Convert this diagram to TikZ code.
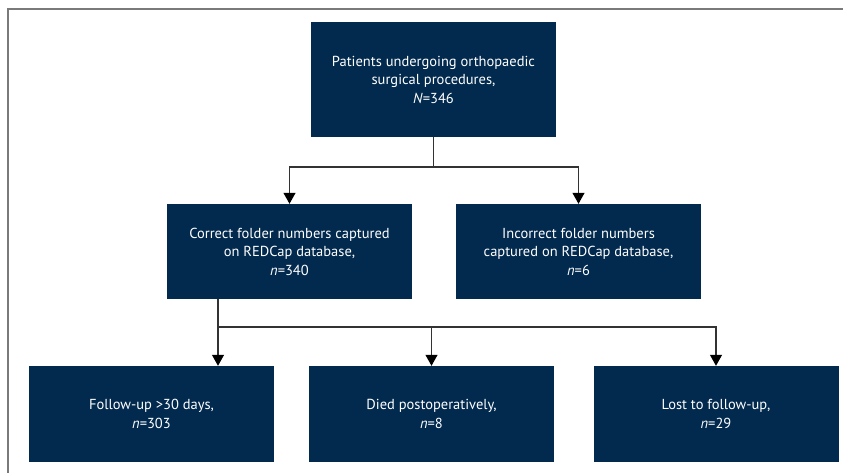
\documentclass[tikz,border=0pt]{standalone}
\usepackage{fontspec}
\setmainfont{PT Sans}
\usetikzlibrary{arrows.meta,calc}
\definecolor{navy}{HTML}{022A4E}
\definecolor{linegray}{HTML}{333333}
\definecolor{framegray}{HTML}{7A7A7A}
\begin{document}
\begin{tikzpicture}[x=1pt,y=-1pt,
  box/.style={draw=none,fill=navy,text=white,align=center,inner sep=0pt,
    font=\fontsize{14.5}{18.5}\selectfont},
  conn/.style={draw=linegray,line width=1.1pt},
  arr/.style={conn,-{Triangle[width=12pt,length=11pt,color=black]}}]
\useasboundingbox (0,0) rectangle (843,473);
% frame
\draw[framegray,line width=1.5pt] (8,473) -- (8,9) -- (843,9);
% nodes
\node[box,minimum width=245pt,minimum height=115pt] (top) at (433.5,79.5)
  {Patients undergoing orthopaedic\\surgical procedures,\\\textit{N}=346};
\node[box,minimum width=245pt,minimum height=95pt] (midL) at (289.5,251.5)
  {Correct folder numbers captured\\on REDCap database,\\\textit{n}=340};
\node[box,minimum width=245pt,minimum height=95pt] (midR) at (578.5,251.5)
  {Incorrect folder numbers\\captured on REDCap database,\\\textit{n}=6};
\node[box,minimum width=245pt,minimum height=96pt] (botL) at (151.5,414)
  {Follow-up >30 days,\\\textit{n}=303};
\node[box,minimum width=245pt,minimum height=96pt] (botM) at (431.5,414)
  {Died postoperatively,\\\textit{n}=8};
\node[box,minimum width=245pt,minimum height=96pt] (botR) at (716,414)
  {Lost to follow-up,\\\textit{n}=29};
% connectors
\coordinate (j1) at (433.5,167);
\draw[conn] (top.south) -- (j1);
\draw[arr] (j1) -| (midL.north);
\draw[arr] (j1) -| (midR.north);
\coordinate (j2) at (218,327);
\draw[conn] (j2 |- midL.south) -- (j2);
\draw[arr] (j2) -- (j2 |- botL.north);
\draw[arr] (j2) -| (botR.north);
\draw[arr] (j2 -| botM.north) -- (botM.north);
\end{tikzpicture}
\end{document}
